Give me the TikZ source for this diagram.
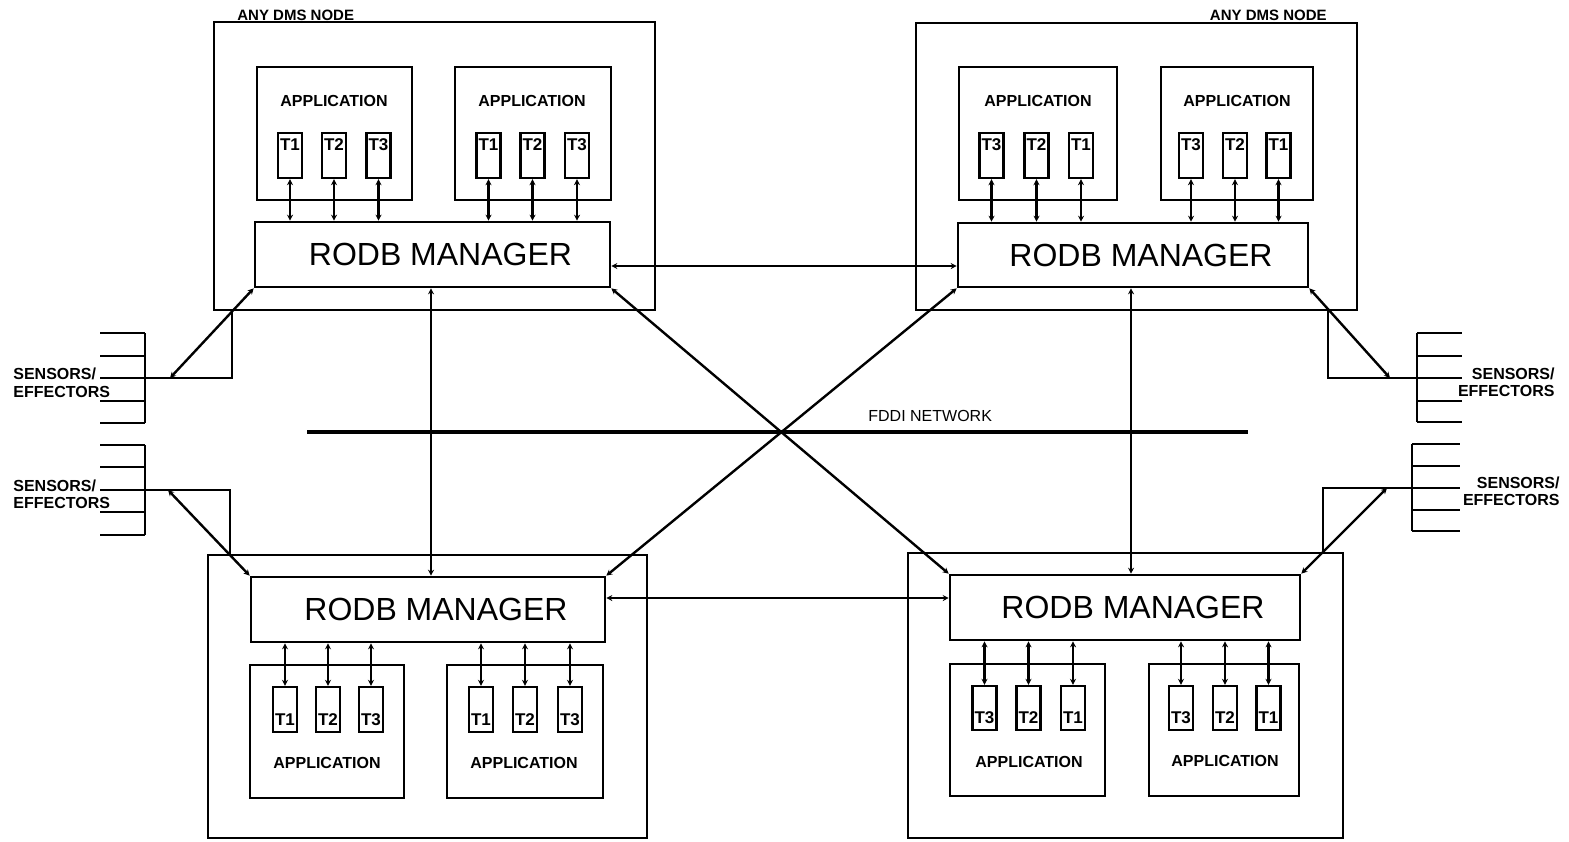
\documentclass[tikz,border=0pt]{standalone}
\usepackage{fontspec}
\setmainfont{Liberation Sans}
\usetikzlibrary{arrows.meta,fit,calc}
\begin{document}
\begin{tikzpicture}[x=0.5pt,y=-0.5pt,
  outer/.style={draw,line width=1.3pt,inner sep=0pt},
  appbox/.style={draw,line width=1.3pt,inner sep=0pt},
  tbox/.style={draw,line width=1.2pt,inner sep=0pt},
  rodb/.style={draw,line width=1.3pt,inner sep=0pt},
  rodblab/.style={inner sep=0pt,font=\fontsize{16}{18}\selectfont},
  tlab/.style={inner sep=0pt,font=\bfseries\fontsize{8.5}{9}\selectfont},
  applab/.style={inner sep=0pt,font=\bfseries\fontsize{8}{9}\selectfont},
  smalllab/.style={inner sep=0pt,font=\bfseries\fontsize{7.5}{9}\selectfont},
  senslab/.style={inner sep=0pt,font=\bfseries\fontsize{8}{9}\selectfont},
  conn/.style={line width=1.2pt,{Stealth[length=3pt,width=3pt]}-{Stealth[length=3pt,width=3pt]}},
  wire/.style={line width=1.2pt},
  net/.style={line width=1.9pt}
]
\useasboundingbox (0,0) rectangle (1569,841);

% outer DMS node boxes
\node[outer,fit={(214,22)(655,310)}] (oTL) {};
\node[outer,fit={(916,23)(1357,310)}] (oTR) {};
\node[outer,fit={(208,555)(647,838)}] (oBL) {};
\node[outer,fit={(908,553)(1343,838)}] (oBR) {};
\node[smalllab,anchor=base west] (dmsTL) at (237,20) {ANY DMS NODE};
\node[smalllab,anchor=base east] (dmsTR) at (1327,20) {ANY DMS NODE};

% RODB managers
\node[rodb,fit={(255,222)(610,287)}] (rTL) {};
\node[rodb,fit={(958,223)(1308,287)}] (rTR) {};
\node[rodb,fit={(251,577)(605,642)}] (rBL) {};
\node[rodb,fit={(950,575)(1300,640)}] (rBR) {};
\foreach \r in {rTL,rTR,rBL,rBR}
  \node[rodblab] (\r lab) at ([xshift=4pt]\r.center) {RODB MANAGER};

% application boxes
\node[appbox,fit={(257,67)(412,200)}] (aTL1) {};
\node[appbox,fit={(455,67)(611,200)}] (aTL2) {};
\node[appbox,fit={(959,67)(1117,200)}] (aTR1) {};
\node[appbox,fit={(1161,67)(1313,200)}] (aTR2) {};
\node[appbox,fit={(250,665)(404,798)}] (aBL1) {};
\node[appbox,fit={(447,665)(603,798)}] (aBL2) {};
\node[appbox,fit={(950,664)(1105,796)}] (aBR1) {};
\node[appbox,fit={(1149,664)(1299,796)}] (aBR2) {};
\foreach \n/\cx/\cy in {aTL1/334/101, aTL2/532/101, aTR1/1038/101, aTR2/1237/101,
  aBL1/327/763, aBL2/524/763, aBR1/1029/762, aBR2/1225/761}
  \node[applab] (\n lab) at (\cx,\cy) {APPLICATION};

% task boxes, top nodes
\foreach \n/\cx/\lab in {tl1/290/T1, tl2/334/T2, tl3/378.5/T3, tl4/488.5/T1, tl5/532.5/T2, tl6/577/T3}{
  \node[tbox,fit={(\cx-12,133)(\cx+12,178)}] (\n) {};
  \node[tlab] (\n lab) at (\cx,145) {\lab};
  \draw[conn] (\n.south) -- (\n.south |- rTL.north);
}
\foreach \n/\cx/\lab in {tr1/991.5/T3, tr2/1036.5/T2, tr3/1081/T1, tr4/1191/T3, tr5/1235/T2, tr6/1278.5/T1}{
  \node[tbox,fit={(\cx-12,133)(\cx+12,178)}] (\n) {};
  \node[tlab] (\n lab) at (\cx,145) {\lab};
  \draw[conn] (\n.south) -- (\n.south |- rTR.north);
}
% task boxes, bottom nodes
\foreach \n/\cx/\lab in {bl1/285/T1, bl2/328/T2, bl3/371/T3, bl4/481/T1, bl5/525/T2, bl6/570/T3}{
  \node[tbox,fit={(\cx-12,687)(\cx+12,732)}] (\n) {};
  \node[tlab] (\n lab) at (\cx,720) {\lab};
  \draw[conn] (\n.north) -- (\n.north |- rBL.south);
}
\foreach \n/\cx/\lab in {br1/984.5/T3, br2/1028.5/T2, br3/1073/T1, br4/1181/T3, br5/1225/T2, br6/1268.5/T1}{
  \node[tbox,fit={(\cx-12,686)(\cx+12,730)}] (\n) {};
  \node[tlab] (\n lab) at (\cx,718) {\lab};
  \draw[conn] (\n.north) -- (\n.north |- rBR.south);
}

% FDDI network
\coordinate (fddiW) at (307,432);
\coordinate (fddiE) at (1248,432);
\draw[net] (fddiW) -- (fddiE);
\node[smalllab,font=\fontsize{8}{9}\selectfont,anchor=base west] (fddilab) at (868,421) {FDDI NETWORK};

% helper coordinates
\coordinate (yTop) at (0,266);
\coordinate (yBot) at (0,598);
\coordinate (xL) at (431,0);
\coordinate (xR) at (1131,0);

% manager-to-manager connections
\draw[conn] (rTL.east |- yTop) -- (rTR.west |- yTop);
\draw[conn] (rBL.east |- yBot) -- (rBR.west |- yBot);
\draw[conn] (rTL.south -| xL) -- (rBL.north -| xL);
\draw[conn] (rTR.south -| xR) -- (rBR.north -| xR);
\draw[conn] (rTL.south east) -- (rBR.north west);
\draw[conn] (rTR.south west) -- (rBL.north east);

% sensors / effectors
\coordinate (sTL) at (170,378);
\coordinate (sBL) at (168,490);
\coordinate (sTR) at (1390,378);
\coordinate (sBR) at (1387,488);
\coordinate (vTL) at (232,0);
\coordinate (vBL) at (230,0);
\coordinate (vTR) at (1328,0);
\coordinate (vBR) at (1323,0);
\draw[conn] (rTL.south west) -- (sTL);
\draw[conn] (rBL.north west) -- (sBL);
\draw[conn] (rTR.south east) -- (sTR);
\draw[conn] (rBR.north east) -- (sBR);
\draw[wire] (oTL.south -| vTL) |- (100,378);
\draw[wire] (oBL.north -| vBL) |- (100,490);
\draw[wire] (oTR.south -| vTR) |- (1462,378);
\draw[wire] (oBR.north -| vBR) |- (1460,488);

% combs
\draw[wire] (145,333) -- (145,423);
\foreach \y in {333,356,378,401,423} \draw[wire] (100,\y) -- (145,\y);
\draw[wire] (145,445) -- (145,535);
\foreach \y in {445,467,490,512,535} \draw[wire] (100,\y) -- (145,\y);
\draw[wire] (1417,333) -- (1417,422);
\foreach \y in {333,356,378,401,422} \draw[wire] (1417,\y) -- (1462,\y);
\draw[wire] (1412,444) -- (1412,531);
\foreach \y in {444,466,488,510,531} \draw[wire] (1412,\y) -- (1460,\y);

\node[senslab,anchor=base west] (seTL1) at (13,379) {SENSORS/};
\node[senslab,anchor=base west] (seTL2) at (13,397) {EFFECTORS};
\node[senslab,anchor=base west] (seBL1) at (13,491) {SENSORS/};
\node[senslab,anchor=base west] (seBL2) at (13,508) {EFFECTORS};
\node[senslab,anchor=base east] (seTR1) at (1555,379) {SENSORS/};
\node[senslab,anchor=base east] (seTR2) at (1555,396) {EFFECTORS};
\node[senslab,anchor=base east] (seBR1) at (1560,488) {SENSORS/};
\node[senslab,anchor=base east] (seBR2) at (1560,505) {EFFECTORS};
\end{tikzpicture}
\end{document}
